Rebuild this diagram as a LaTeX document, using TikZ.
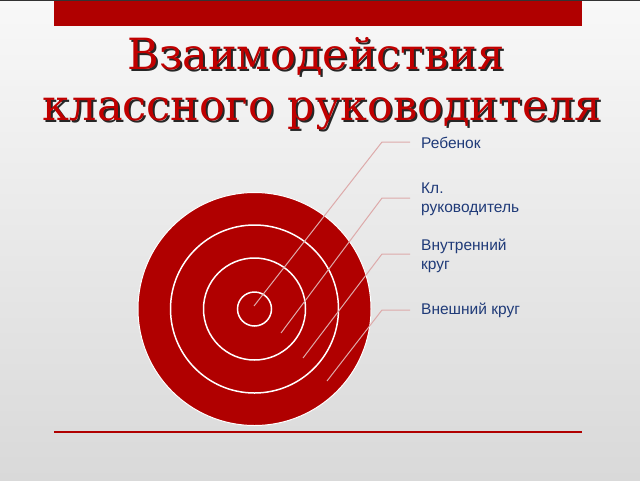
\documentclass[tikz,border=0pt]{standalone}
\usepackage{fontspec}
\setmainfont{Liberation Sans}
\newfontfamily\titlefont{DejaVu Serif}
\definecolor{barred}{HTML}{B00000}
\definecolor{titlered}{HTML}{C00000}
\definecolor{labelblue}{HTML}{1F3A78}
\definecolor{leadercol}{HTML}{DDAAAA}
\definecolor{bgtop}{HTML}{F8F8F8}
\definecolor{bgbot}{HTML}{D9D9D9}
\newcommand{\shadowed}[1]{\rlap{\kern2pt\raisebox{-2pt}{\color{black!85}#1}}#1}
\tikzset{
  titletext/.style={inner sep=0pt, anchor=base, text=titlered,
    font=\titlefont\fontsize{43}{47}\selectfont},
  lbl/.style={inner sep=0pt, anchor=north west, align=left, text=labelblue,
    font=\fontsize{15.5}{18.5}\selectfont},
  leader/.style={draw=leadercol, line width=1pt},
  ring/.style={draw=white, line width=1.5pt},
}
\begin{document}
\begin{tikzpicture}[x=1pt,y=-1pt]
\useasboundingbox (0,0) rectangle (640,480);
% background
\shade[top color=bgtop, bottom color=bgbot] (0,0) rectangle (640,480);
\fill[black!80] (0,0) rectangle (640,1);
% top bar and bottom rule
\fill[barred] (54,1) rectangle (582,26);
\draw[barred, line width=2pt] (54,432) -- (582,432);
% title with shadow
\node[titletext] (t1) at (316,69) {\shadowed{Взаимодействия}};
\node[titletext] (t2) at (322.5,120) {\shadowed{классного руководителя}};
% target
\coordinate (ctr) at (254.5,309);
\fill[barred, draw=white, line width=1pt] (ctr) circle[radius=116.5];
\draw[ring] (ctr) circle[radius=84];
\draw[ring] (ctr) circle[radius=51];
\draw[ring] (ctr) circle[radius=17];
% labels
\node[lbl] (l1) at (421,137) {Ребенок};
\node[lbl] (l2) at (421,183) {Кл.\\руководитель};
\node[lbl] (l3) at (421,239) {Внутренний\\круг};
\node[lbl] (l4) at (421,303) {Внешний круг};
% leader points
\coordinate (c1) at (254,306);
\coordinate (k1) at (382,142);
\coordinate (h1) at (410,142);
\coordinate (c2) at (281,333);
\coordinate (k2) at (382,198);
\coordinate (h2) at (410,198);
\coordinate (c3) at (303,358);
\coordinate (k3) at (382,254);
\coordinate (h3) at (410,254);
\coordinate (c4) at (327,381);
\coordinate (k4) at (382,310);
\coordinate (h4) at (410,310);
\draw[leader] (c1) -- (k1) -- (h1);
\draw[leader] (c2) -- (k2) -- (h2);
\draw[leader] (c3) -- (k3) -- (h3);
\draw[leader] (c4) -- (k4) -- (h4);
\end{tikzpicture}
\end{document}
